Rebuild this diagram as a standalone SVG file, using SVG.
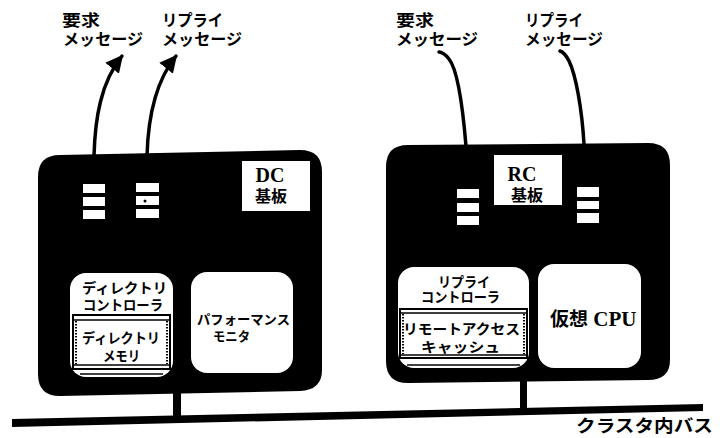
<svg xmlns="http://www.w3.org/2000/svg" width="726" height="438" viewBox="0 0 726 438">
<style>
.jp{font-family:"Noto Sans CJK JP","Noto Sans",sans-serif;font-weight:700;fill:#000}
.lbl{font-size:16px}
.in{font-size:14px}
.serif{font-family:"Liberation Serif","Noto Sans CJK JP",serif;font-weight:700;fill:#000}
.board{fill:#000}
.bar{fill:#fff}
.inner{fill:#fff}
.wire{fill:none;stroke:#000;stroke-width:3.5;stroke-linecap:round}
.mem{fill:#fff;stroke:#000;stroke-width:2}
.dline{stroke:#000;stroke-width:1.5}
.side{stroke:#000;stroke-width:2;stroke-dasharray:1.5 1.5}
</style>
<defs>
<marker id="ah" viewBox="0 0 10 10" refX="9" refY="5" markerWidth="5" markerHeight="5" orient="auto" markerUnits="strokeWidth">
<path d="M0,0 L10,5 L0,10 z" fill="#000"/>
</marker>
</defs>

<g id="connectors">
<path class="wire" d="M94,156 C95,118 101,82 122,56" marker-end="url(#ah)"/>
<path class="wire" d="M147,156 C148,118 155,82 176,56" marker-end="url(#ah)"/>
<path class="wire" d="M466,146 C463,110 458,70 449,59 C445,54 441,52 439,52"/>
<path class="wire" d="M584,144 C582,110 576,75 569,61 C566,55 563,52 560,51"/>
<polygon points="12,419 703,404 703,411 12,427" fill="#000"/>
<rect x="173" y="390" width="8" height="26" fill="#000"/>
<rect x="520" y="378" width="7" height="30" fill="#000"/>
</g>

<g id="dc-board">
<path class="board" d="M60,155 L300,150 Q322,150 322,172 L322,370 Q322,390 300,391 L60,396 Q38,396 38,374 L38,177 Q38,155 60,155 z"/>
<rect class="bar" x="83" y="184" width="22" height="9"/>
<rect class="bar" x="83" y="197" width="22" height="9"/>
<rect class="bar" x="83" y="210" width="22" height="9"/>
<rect class="bar" x="136" y="183" width="23" height="9"/>
<rect class="bar" x="136" y="196" width="23" height="9"/>
<rect class="bar" x="136" y="209" width="23" height="9"/>
<circle cx="145" cy="201" r="1.5" fill="#000"/>
<rect fill="#fff" x="242" y="161" width="68" height="50"/>
<text class="serif" x="270" y="182" font-size="20" text-anchor="middle">DC</text>
<text class="jp" x="271" y="202" font-size="16" text-anchor="middle">基板</text>
</g>

<g id="dc-controller">
<rect class="inner" x="70" y="273" width="103" height="104" rx="16"/>
<text class="jp in" x="82" y="293" textLength="85" lengthAdjust="spacingAndGlyphs">ディレクトリ</text>
<text class="jp in" x="83" y="310" textLength="80" lengthAdjust="spacingAndGlyphs">コントローラ</text>
</g>
<g id="dc-memory">
<rect class="mem" x="73" y="315" width="97" height="54"/>
<line class="dline" x1="73" y1="320" x2="170" y2="320"/>
<line class="dline" x1="73" y1="365" x2="170" y2="365"/>
<line class="side" x1="76" y1="321" x2="76" y2="364"/>
<line class="side" x1="167" y1="321" x2="167" y2="364"/>
<line stroke="#000" stroke-width="1.5" x1="80" y1="374" x2="163" y2="374"/>
<text class="jp in" x="82" y="343" textLength="78" lengthAdjust="spacingAndGlyphs">ディレクトリ</text>
<text class="jp in" x="103" y="361" textLength="37" lengthAdjust="spacingAndGlyphs">メモリ</text>
</g>
<g id="dc-monitor">
<rect class="inner" x="191" y="272" width="102" height="101" rx="16"/>
<text class="jp" font-size="13" x="197" y="324" textLength="93" lengthAdjust="spacingAndGlyphs">パフォーマンス</text>
<text class="jp" font-size="13" x="213" y="341" textLength="37" lengthAdjust="spacingAndGlyphs">モニタ</text>
</g>

<g id="rc-board">
<path class="board" d="M408,145 L648,143 Q670,143 670,165 L670,360 Q670,380 648,380 L408,383 Q386,383 386,361 L386,167 Q386,145 408,145 z"/>
<rect class="bar" x="457" y="189" width="22" height="9"/>
<rect class="bar" x="457" y="203" width="22" height="9"/>
<rect class="bar" x="457" y="216" width="22" height="9"/>
<rect class="bar" x="577" y="187" width="22" height="10"/>
<rect class="bar" x="577" y="201" width="22" height="8"/>
<rect class="bar" x="577" y="213" width="22" height="10"/>
<rect fill="#fff" x="494" y="155" width="68" height="50"/>
<text class="serif" x="522" y="181" font-size="20" text-anchor="middle">RC</text>
<text class="jp" x="527" y="201" font-size="16" text-anchor="middle">基板</text>
</g>

<g id="rc-controller">
<rect class="inner" x="398" y="267" width="131" height="101" rx="16"/>
<text class="jp in" x="438" y="287" textLength="52" lengthAdjust="spacingAndGlyphs">リプライ</text>
<text class="jp in" x="421" y="302" textLength="79" lengthAdjust="spacingAndGlyphs">コントローラ</text>
</g>
<g id="rc-cache">
<rect class="mem" x="400" y="309" width="127" height="49"/>
<line class="dline" x1="400" y1="313" x2="527" y2="313"/>
<line class="dline" x1="400" y1="355" x2="527" y2="355"/>
<line class="side" x1="403" y1="314" x2="403" y2="354"/>
<line class="side" x1="524" y1="314" x2="524" y2="354"/>
<line stroke="#000" stroke-width="1.5" x1="407" y1="365" x2="520" y2="365"/>
<text class="jp in" x="403" y="334" textLength="117" lengthAdjust="spacingAndGlyphs">リモートアクセス</text>
<text class="jp in" x="421" y="352" textLength="79" lengthAdjust="spacingAndGlyphs">キャッシュ</text>
</g>
<g id="rc-cpu">
<rect class="inner" x="538" y="264" width="103" height="104" rx="16"/>
<text class="jp" font-size="19" x="550" y="326"><tspan>仮想</tspan><tspan class="serif" font-size="21"> CPU</tspan></text>
</g>

<g id="labels">
<text class="jp lbl" x="62" y="26" textLength="38" lengthAdjust="spacingAndGlyphs">要求</text>
<text class="jp lbl" x="63" y="45" textLength="80" lengthAdjust="spacingAndGlyphs">メッセージ</text>
<text class="jp lbl" x="162" y="26" textLength="61" lengthAdjust="spacingAndGlyphs">リプライ</text>
<text class="jp lbl" x="162" y="45" textLength="80" lengthAdjust="spacingAndGlyphs">メッセージ</text>
<text class="jp lbl" x="396" y="26" textLength="38" lengthAdjust="spacingAndGlyphs">要求</text>
<text class="jp lbl" x="396" y="45" textLength="82" lengthAdjust="spacingAndGlyphs">メッセージ</text>
<text class="jp lbl" x="525" y="26" textLength="58" lengthAdjust="spacingAndGlyphs">リプライ</text>
<text class="jp lbl" x="525" y="45" textLength="78" lengthAdjust="spacingAndGlyphs">メッセージ</text>
<text class="jp" font-size="17" x="576" y="432" textLength="137" lengthAdjust="spacingAndGlyphs">クラスタ内バス</text>
</g>
</svg>
